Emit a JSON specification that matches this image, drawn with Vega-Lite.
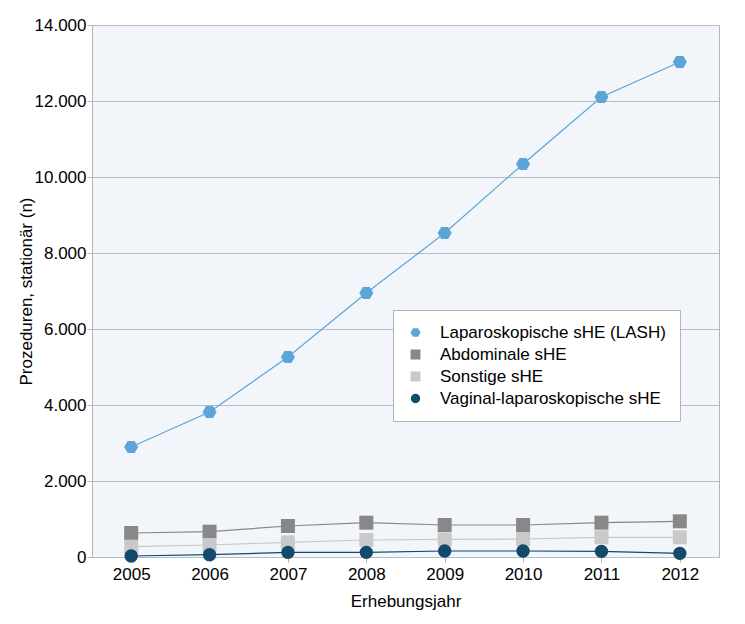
{
  "$schema": "https://vega.github.io/schema/vega-lite/v6.json",
  "width": 627,
  "height": 532,
  "autosize": {"type": "none"},
  "padding": {"left": 92, "top": 25, "right": 26, "bottom": 67},
  "background": "white",
  "config": {
    "font": "Liberation Sans",
    "locale": {"number": {"decimal": ",", "thousands": ".", "grouping": [3], "currency": ["", " €"]}},
    "view": {"fill": "#f2f5fa", "stroke": "#b5b5b5", "strokeWidth": 1},
    "axis": {
      "labelFontSize": 17,
      "labelColor": "#000000",
      "titleFontSize": 17,
      "titleFontWeight": "normal",
      "titleColor": "#000000",
      "domain": false,
      "tickColor": "#b5b5b5",
      "tickSize": 5,
      "gridColor": "#b4bcc6",
      "gridWidth": 1
    }
  },
  "data": {
    "values": [
      {"Jahr": "2005", "Serie": "Laparoskopische sHE (LASH)", "n": 2895},
      {"Jahr": "2006", "Serie": "Laparoskopische sHE (LASH)", "n": 3816},
      {"Jahr": "2007", "Serie": "Laparoskopische sHE (LASH)", "n": 5263},
      {"Jahr": "2008", "Serie": "Laparoskopische sHE (LASH)", "n": 6947},
      {"Jahr": "2009", "Serie": "Laparoskopische sHE (LASH)", "n": 8526},
      {"Jahr": "2010", "Serie": "Laparoskopische sHE (LASH)", "n": 10342},
      {"Jahr": "2011", "Serie": "Laparoskopische sHE (LASH)", "n": 12105},
      {"Jahr": "2012", "Serie": "Laparoskopische sHE (LASH)", "n": 13026},
      {"Jahr": "2005", "Serie": "Abdominale sHE", "n": 632},
      {"Jahr": "2006", "Serie": "Abdominale sHE", "n": 666},
      {"Jahr": "2007", "Serie": "Abdominale sHE", "n": 816},
      {"Jahr": "2008", "Serie": "Abdominale sHE", "n": 903},
      {"Jahr": "2009", "Serie": "Abdominale sHE", "n": 842},
      {"Jahr": "2010", "Serie": "Abdominale sHE", "n": 842},
      {"Jahr": "2011", "Serie": "Abdominale sHE", "n": 903},
      {"Jahr": "2012", "Serie": "Abdominale sHE", "n": 939},
      {"Jahr": "2005", "Serie": "Sonstige sHE", "n": 272},
      {"Jahr": "2006", "Serie": "Sonstige sHE", "n": 316},
      {"Jahr": "2007", "Serie": "Sonstige sHE", "n": 386},
      {"Jahr": "2008", "Serie": "Sonstige sHE", "n": 447},
      {"Jahr": "2009", "Serie": "Sonstige sHE", "n": 465},
      {"Jahr": "2010", "Serie": "Sonstige sHE", "n": 474},
      {"Jahr": "2011", "Serie": "Sonstige sHE", "n": 518},
      {"Jahr": "2012", "Serie": "Sonstige sHE", "n": 518},
      {"Jahr": "2005", "Serie": "Vaginal-laparoskopische sHE", "n": 26},
      {"Jahr": "2006", "Serie": "Vaginal-laparoskopische sHE", "n": 61},
      {"Jahr": "2007", "Serie": "Vaginal-laparoskopische sHE", "n": 123},
      {"Jahr": "2008", "Serie": "Vaginal-laparoskopische sHE", "n": 123},
      {"Jahr": "2009", "Serie": "Vaginal-laparoskopische sHE", "n": 158},
      {"Jahr": "2010", "Serie": "Vaginal-laparoskopische sHE", "n": 158},
      {"Jahr": "2011", "Serie": "Vaginal-laparoskopische sHE", "n": 149},
      {"Jahr": "2012", "Serie": "Vaginal-laparoskopische sHE", "n": 96}
    ]
  },
  "encoding": {
    "x": {
      "field": "Jahr",
      "type": "ordinal",
      "scale": {"type": "point", "padding": 0.5},
      "axis": {"title": "Erhebungsjahr", "labelAngle": 0, "grid": false, "labelPadding": 4, "titlePadding": 11}
    },
    "y": {
      "field": "n",
      "type": "quantitative",
      "scale": {"domain": [0, 14000]},
      "axis": {"title": "Prozeduren, stationär (n)", "values": [0, 2000, 4000, 6000, 8000, 10000, 12000, 14000], "format": ",d", "labelPadding": 1, "titlePadding": -1, "tickSize": 5}
    },
    "color": {
      "field": "Serie",
      "type": "nominal",
      "scale": {
        "domain": ["Laparoskopische sHE (LASH)", "Abdominale sHE", "Sonstige sHE", "Vaginal-laparoskopische sHE"],
        "range": ["#5ba6d6", "#888888", "#c9c9c9", "#124a6b"]
      },
      "legend": {
        "title": null,
        "orient": "none",
        "legendX": 301,
        "legendY": 285,
        "strokeColor": "#b5b5b5",
        "fillColor": "#ffffff",
        "padding": 14,
        "labelFontSize": 17,
        "labelColor": "#000000",
        "symbolSize": 70,
        "rowPadding": 4,
        "labelOffset": 16,
        "labelLimit": 400
      }
    }
  },
  "layer": [
    {
      "mark": {"type": "line", "strokeWidth": 1.2}
    },
    {
      "mark": {"type": "point", "filled": true, "opacity": 1, "size": 196},
      "encoding": {
        "shape": {
          "field": "Serie",
          "type": "nominal",
          "scale": {
            "domain": ["Laparoskopische sHE (LASH)", "Abdominale sHE", "Sonstige sHE", "Vaginal-laparoskopische sHE"],
            "range": ["M-1,0L-0.5,-0.866L0.5,-0.866L1,0L0.5,0.866L-0.5,0.866Z", "square", "square", "M-0.95,0A0.95,0.95 0 1,0 0.95,0A0.95,0.95 0 1,0 -0.95,0Z"]
          },
          "legend": {
            "title": null,
            "orient": "none",
            "legendX": 301,
            "legendY": 285,
            "strokeColor": "#b5b5b5",
            "fillColor": "#ffffff",
            "padding": 14,
            "labelFontSize": 17,
            "labelColor": "#000000",
            "symbolSize": 70,
            "rowPadding": 4,
            "labelOffset": 16,
            "labelLimit": 400
          }
        }
      }
    }
  ]
}
